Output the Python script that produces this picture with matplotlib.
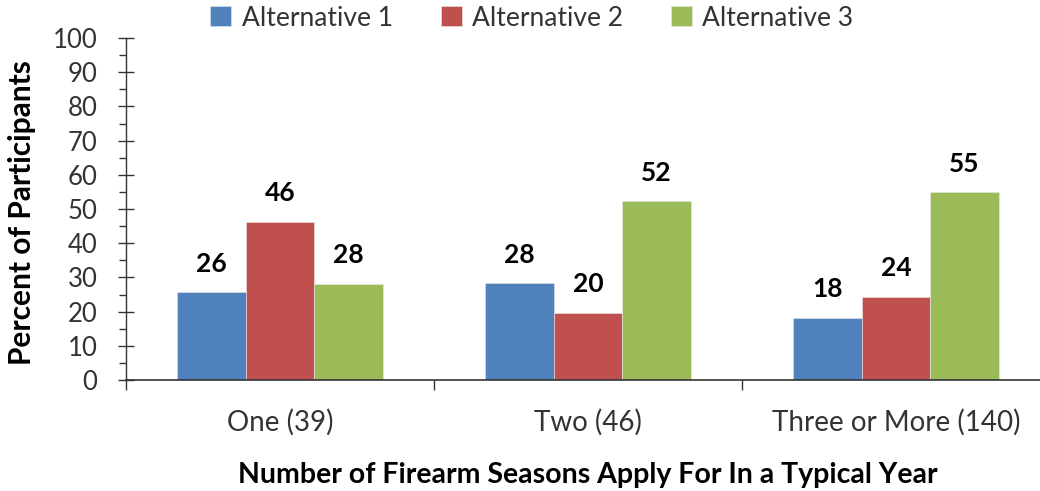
import numpy as np
import matplotlib.pyplot as plt
from matplotlib.ticker import MultipleLocator, FixedLocator, NullFormatter

plt.rcParams['font.family'] = ['Lato', 'DejaVu Sans']

# data
categories = ["One (39)", "Two (46)", "Three or More (140)"]
series = ["Alternative 1", "Alternative 2", "Alternative 3"]
alt1 = [25.6, 28.3, 18.1]
alt2 = [46.2, 19.6, 24.3]
alt3 = [28.2, 52.2, 54.9]
colors = ["#4F81BD", "#C0504D", "#9BBB59"]

fig = plt.figure(figsize=(10.4, 4.91), dpi=100)
ax = fig.add_axes([126 / 1040, 111 / 491, 924 / 1040, 342 / 491])

x = np.arange(len(categories))
width = 0.222
handles = []
for i, (vals, name, col) in enumerate(zip([alt1, alt2, alt3], series, colors)):
    bars = ax.bar(x + (i - 1) * width, vals, width, color=col, label=name,
                  edgecolor="#e8e8e8", linewidth=0.4, zorder=2)
    handles.append(bars)
    ax.bar_label(bars, labels=[f"{v:.0f}" for v in vals], padding=12,
                 fontsize=19, fontweight="bold", color="black")

ax.set_xlim(-0.5, len(categories) - 0.5)
ax.set_ylim(0, 100)

# spines
for s in ["top", "right"]:
    ax.spines[s].set_visible(False)
ax.spines["left"].set_color("#333333")
ax.spines["bottom"].set_color("#333333")
ax.spines["bottom"].set_linewidth(1.2)
ax.spines["left"].set_linewidth(1.0)

# y ticks
ax.yaxis.set_major_locator(MultipleLocator(10))
ax.yaxis.set_minor_locator(MultipleLocator(5))
ax.tick_params(axis="y", which="major", direction="inout", length=11, width=1,
               color="#333333", labelsize=18.5, labelcolor="#333333", pad=15)
ax.tick_params(axis="y", which="minor", direction="out", length=5, width=1,
               color="#333333")

# x ticks: boundaries get ticks, centres get labels
ax.xaxis.set_major_locator(FixedLocator(np.arange(len(categories) + 1) - 0.5))
ax.xaxis.set_major_formatter(NullFormatter())
ax.xaxis.set_minor_locator(FixedLocator(x))
ax.set_xticklabels(categories, minor=True, fontsize=20)
ax.tick_params(axis="x", which="major", direction="out", length=7, width=1,
               color="#333333")
ax.tick_params(axis="x", which="minor", length=0,
               labelcolor="#333333", pad=21)

ax.set_ylabel("Percent of Participants", fontsize=21.5, fontweight="bold")
ax.yaxis.set_label_coords(-0.097, 0.49)
ax.set_xlabel("Number of Firearm Seasons Apply For In a Typical Year",
              fontsize=20.5, fontweight="bold")
ax.xaxis.set_label_coords(0.5, -0.24)

fig.legend(handles=handles, labels=series, loc="center", ncol=3,
           bbox_to_anchor=(532 / 1040, 1 - 18 / 491), frameon=False,
           fontsize=19, handlelength=0.8, handleheight=0.8,
           handletextpad=0.4, columnspacing=1.8, labelcolor="#333333")

fig.savefig("out.png", dpi=100)
